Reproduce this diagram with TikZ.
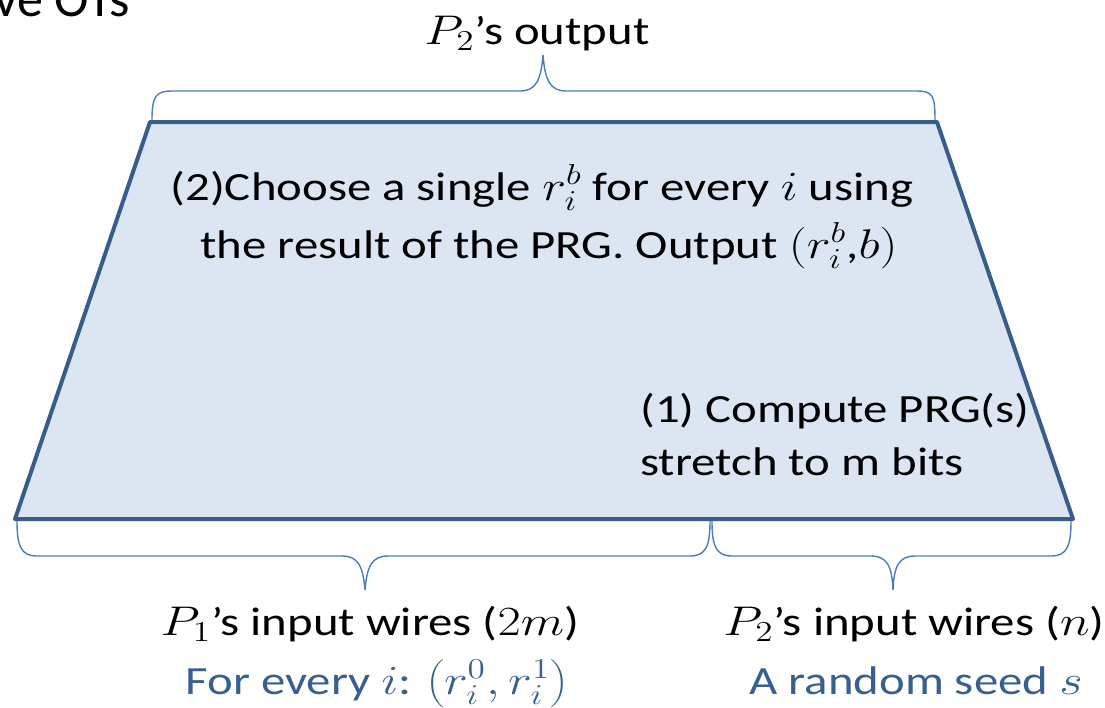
\documentclass[tikz,border=0pt]{standalone}
\usepackage{fontspec}
\setmainfont{Carlito}
\definecolor{edgeblue}{RGB}{56,93,138}
\definecolor{fillblue}{RGB}{220,230,242}
\definecolor{braceblue}{RGB}{74,126,187}
\definecolor{textblue}{RGB}{55,96,146}
\newcommand{\wide}[1]{\scalebox{1.22}[1]{#1}}
\tikzset{
  txt/.style={inner sep=0pt, font=\fontsize{20}{24}\selectfont, anchor=base},
  bracestyle/.style={draw=braceblue, line width=0.7pt},
}
\begin{document}
\begin{tikzpicture}[x=0.5pt,y=-0.5pt]
\useasboundingbox (0,0) rectangle (1105,708);
% cut-off title
\node[txt, anchor=base east, font=\fontsize{26}{30}\selectfont] (title) at (130,16) {ve OTs};
% trapezoid
\coordinate (tl) at (150,122);
\coordinate (tr) at (937,122);
\coordinate (br) at (1073,519);
\coordinate (bl) at (15,519);
\draw[draw=edgeblue, fill=fillblue, line width=2pt, line join=round] (tl) -- (tr) -- (br) -- (bl) -- cycle;
% top brace
\draw[bracestyle] (152,120) .. controls (152,96) and (156,91) .. (172,91) -- (520,91)
  .. controls (536,91) and (541,80) .. (543,55)
  .. controls (545,80) and (550,91) .. (566,91) -- (917,91)
  .. controls (933,91) and (935,96) .. (935,120);
% bottom left brace
\draw[bracestyle] (17,521) .. controls (17,546) and (21,556) .. (37,556) -- (342,556)
  .. controls (358,556) and (363,566) .. (365,590)
  .. controls (367,566) and (372,556) .. (388,556) -- (690,556)
  .. controls (706,556) and (710,546) .. (710,521);
% bottom right brace
\draw[bracestyle] (712,521) .. controls (712,546) and (716,556) .. (732,556) -- (871,556)
  .. controls (887,556) and (892,566) .. (893,590)
  .. controls (894,566) and (899,556) .. (915,556) -- (1051,556)
  .. controls (1067,556) and (1071,546) .. (1071,521);
% texts
\node[txt] (out) at (537,44) {\wide{$P_2$’s output}};
\node[txt] (c1) at (542,200) {\wide{(2)Choose a single $r_i^b$ for every $i$ using}};
\node[txt] (c2) at (549,258) {\wide{the result of the PRG. Output $(r_i^b$,$b)$}};
\node[txt, anchor=base west] (p1) at (640,422) {\wide{(1) Compute PRG(s)}};
\node[txt, anchor=base west] (p2) at (640,475) {\wide{stretch to m bits}};
\node[txt] (in1) at (370,635) {\wide{$P_1$’s input wires ($2m$)}};
\node[txt, text=textblue] (in1b) at (377,694) {\wide{For every $i$: $\left(r_i^0,r_i^1\right)$}};
\node[txt] (in2) at (914,635) {\wide{$P_2$’s input wires ($n$)}};
\node[txt, text=textblue] (in2b) at (916,694) {\wide{A random seed $s$}};
\end{tikzpicture}
\end{document}
